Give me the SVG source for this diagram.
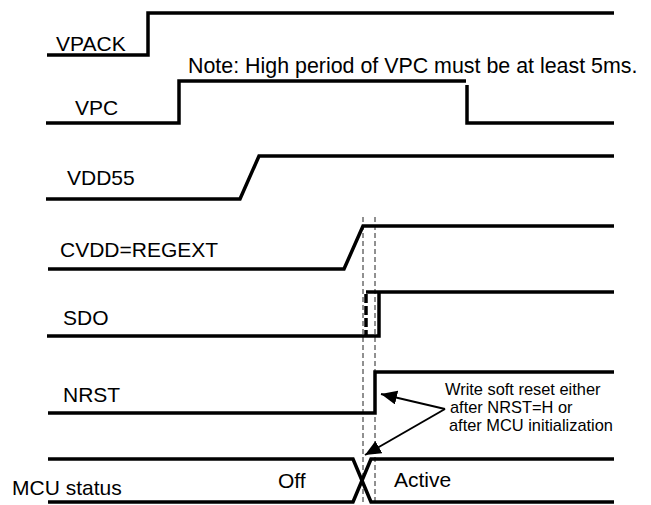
<svg xmlns="http://www.w3.org/2000/svg" width="651" height="505" viewBox="0 0 651 505">
<style>
.sig{fill:none;stroke:#000;stroke-width:3.5;stroke-linejoin:miter;stroke-linecap:butt}
.lbl{font-family:"Liberation Sans",Arial,sans-serif;font-size:21px;fill:#000}
.big{font-size:21.4px}
.note{font-family:"Liberation Sans",Arial,sans-serif;font-size:16.4px;fill:#000}
.guide{fill:none;stroke:#222;stroke-width:1;stroke-dasharray:5 3}
.arr{fill:none;stroke:#000;stroke-width:2}
</style>
<defs>
<marker id="ah" markerUnits="userSpaceOnUse" markerWidth="17" markerHeight="15" refX="16" refY="7" orient="auto">
<path d="M0,0 L16,7 L0,14 z" fill="#000"/>
</marker>
</defs>
<rect width="651" height="505" fill="#fff"/>
<g id="guides">
<line class="guide" x1="363" y1="217" x2="363" y2="505"/>
<line class="guide" x1="375" y1="217" x2="375" y2="505"/>
</g>
<g id="vpack">
<path class="sig" d="M47,55 H148 V13 H614"/>
<text class="lbl" x="56" y="51">VPACK</text>
</g>
<g id="vpc">
<path class="sig" d="M46,123 H179 V81 H466"/>
<path class="sig" d="M467,85 V123 H614"/>
<text class="lbl" x="75" y="115">VPC</text>
<text class="lbl big" x="188" y="73">Note: High period of VPC must be at least 5ms.</text>
</g>
<g id="vdd55">
<path class="sig" d="M46,199 H240 L259,156 H614"/>
<text class="lbl" x="67" y="185">VDD55</text>
</g>
<g id="cvdd">
<path class="sig" d="M48,269 H344 L363,226 H614"/>
<text class="lbl" x="60" y="257">CVDD=REGEXT</text>
</g>
<g id="sdo">
<path class="sig" d="M47,336 H379 V292"/>
<path class="sig" d="M366,292 H614"/>
<path class="sig" d="M366,294 V336" stroke-dasharray="9 3"/>
<text class="lbl" x="63" y="325">SDO</text>
</g>
<g id="nrst">
<path class="sig" d="M48,413 H375 V372 H614"/>
<text class="lbl" x="63" y="402">NRST</text>
</g>
<g id="mcu">
<path class="sig" d="M48,459 H353 L371,502 H614"/>
<path class="sig" d="M48,502 H353 L371,459 H614"/>
<text class="lbl" x="12" y="495">MCU status</text>
<text class="lbl" x="278" y="488">Off</text>
<text class="lbl" x="394" y="487">Active</text>
</g>
<g id="annotation">
<text class="note" x="445" y="395">Write soft reset either</text>
<text class="note" x="450" y="413">after NRST=H or</text>
<text class="note" x="449" y="431">after MCU initialization</text>
</g>
<g id="connectors">
<line class="arr" x1="445" y1="409" x2="381" y2="394" marker-end="url(#ah)"/>
<line class="arr" x1="445" y1="409" x2="365" y2="455" marker-end="url(#ah)"/>
</g>
</svg>
